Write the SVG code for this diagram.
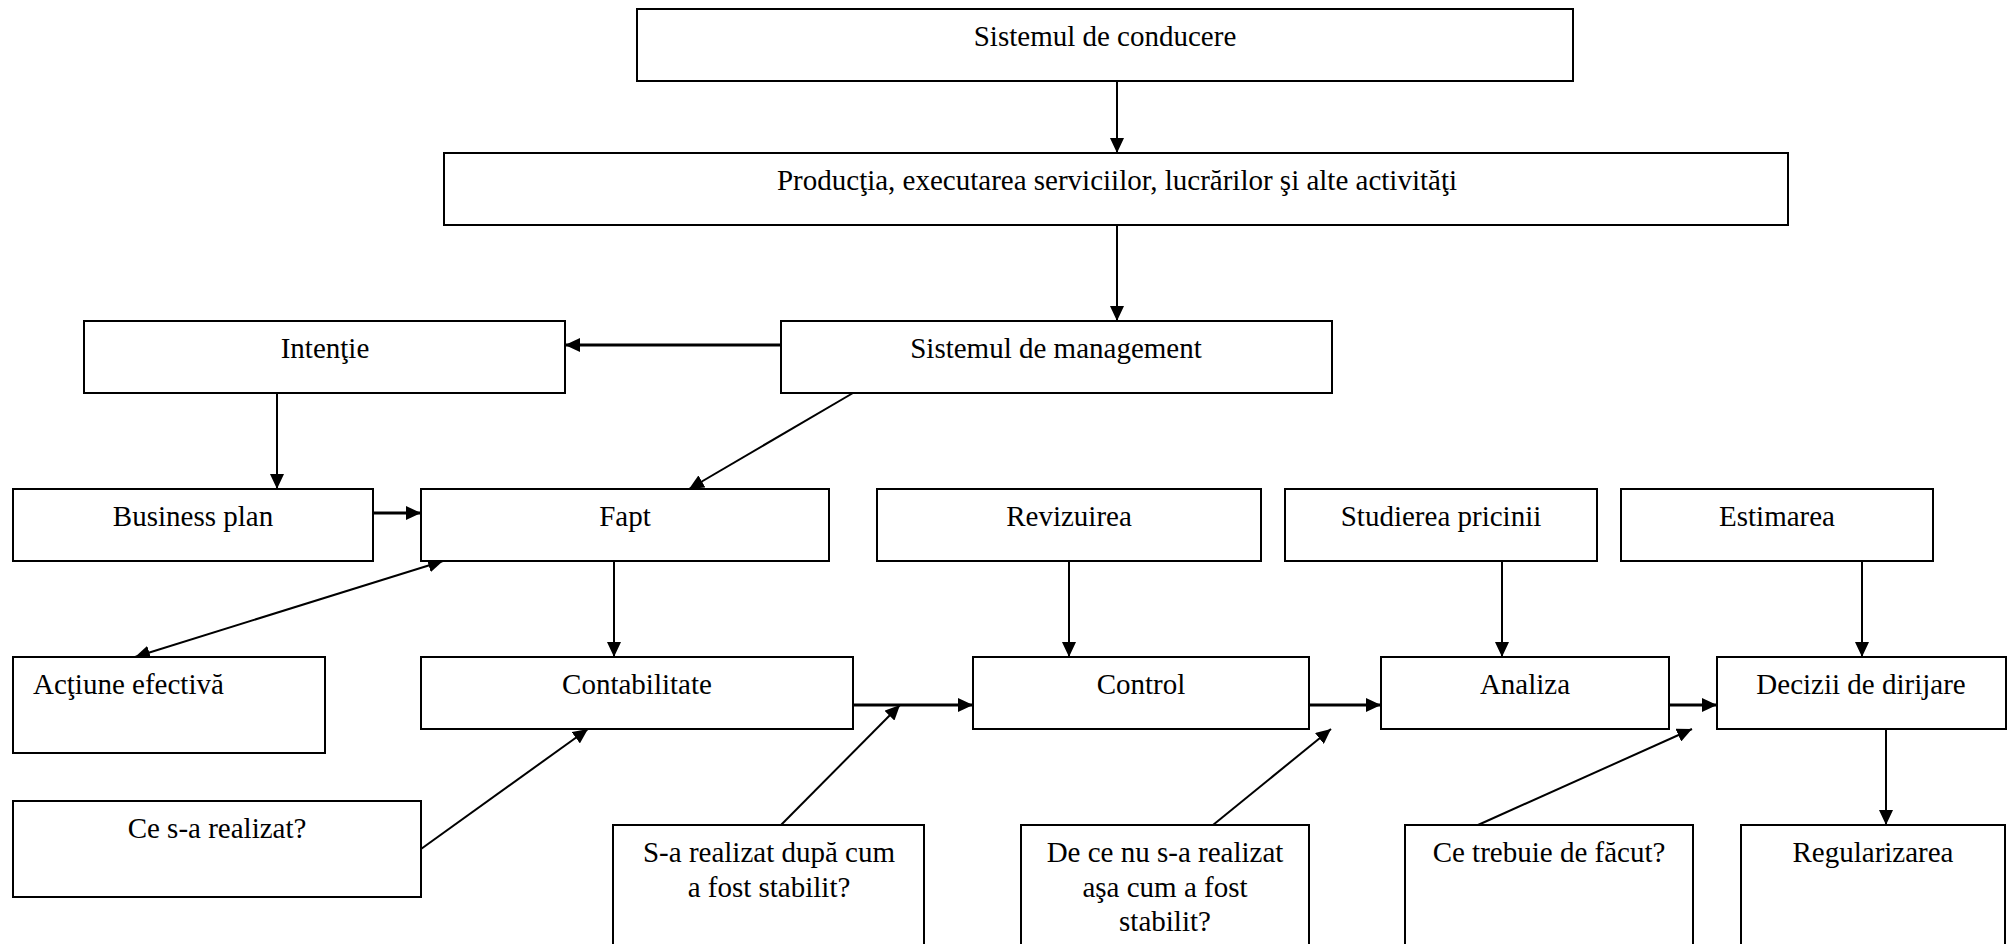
<svg xmlns="http://www.w3.org/2000/svg" width="2013" height="944" viewBox="0 0 2013 944">
  <style>
    .box { fill: #ffffff; stroke: #000000; stroke-width: 2; }
    .lbl { font-family: "Liberation Serif", "Times New Roman", serif; font-size: 29px; fill: #000000; text-anchor: middle; }
    .lbl-left { text-anchor: start; }
    .c { fill: none; stroke: #000000; stroke-width: 2; marker-end: url(#head); }
    .thick { stroke-width: 2.8; }
    .both { marker-start: url(#head); }
  </style>
  <defs>
    <marker id="head" viewBox="0 0 15 14" refX="15" refY="7" markerWidth="15" markerHeight="14" markerUnits="userSpaceOnUse" orient="auto-start-reverse">
      <path d="M0,0 L15,7 L0,14 z" fill="#000000"/>
    </marker>
  </defs>

  <rect width="2013" height="944" fill="#ffffff"/>

  <!-- connectors -->
  <g id="connectors">
    <line class="c" x1="1117" y1="81" x2="1117" y2="153"/>
    <line class="c" x1="1117" y1="225" x2="1117" y2="321"/>
    <line class="c thick" x1="781" y1="345" x2="565" y2="345"/>
    <line class="c" x1="277" y1="393" x2="277" y2="489"/>
    <line class="c thick" x1="373" y1="513" x2="421" y2="513"/>
    <line class="c" x1="853" y1="393" x2="689" y2="489"/>
    <line class="c both" x1="443" y1="561" x2="135" y2="657"/>
    <line class="c" x1="614" y1="561" x2="614" y2="657"/>
    <line class="c" x1="421" y1="849" x2="588" y2="729"/>
    <line class="c thick" x1="853" y1="705" x2="973" y2="705"/>
    <line class="c" x1="781" y1="825" x2="900" y2="705"/>
    <line class="c" x1="1069" y1="561" x2="1069" y2="657"/>
    <line class="c thick" x1="1309" y1="705" x2="1381" y2="705"/>
    <line class="c" x1="1213" y1="825" x2="1331" y2="729"/>
    <line class="c" x1="1502" y1="561" x2="1502" y2="657"/>
    <line class="c thick" x1="1669" y1="705" x2="1717" y2="705"/>
    <line class="c" x1="1478" y1="825" x2="1692" y2="729"/>
    <line class="c" x1="1862" y1="561" x2="1862" y2="657"/>
    <line class="c" x1="1886" y1="729" x2="1886" y2="825"/>
  </g>

  <!-- nodes -->
  <g id="sistemul-conducere">
    <rect class="box" x="637" y="9" width="936" height="72"/>
    <text class="lbl" x="1105" y="46">Sistemul de conducere</text>
  </g>
  <g id="productia">
    <rect class="box" x="444" y="153" width="1344" height="72"/>
    <text class="lbl" x="1117" y="190">Producţia, executarea serviciilor, lucrărilor şi alte activităţi</text>
  </g>
  <g id="intentie">
    <rect class="box" x="84" y="321" width="481" height="72"/>
    <text class="lbl" x="325" y="358">Intenţie</text>
  </g>
  <g id="sistemul-management">
    <rect class="box" x="781" y="321" width="551" height="72"/>
    <text class="lbl" x="1056" y="358">Sistemul de management</text>
  </g>
  <g id="business-plan">
    <rect class="box" x="13" y="489" width="360" height="72"/>
    <text class="lbl" x="193" y="526">Business plan</text>
  </g>
  <g id="fapt">
    <rect class="box" x="421" y="489" width="408" height="72"/>
    <text class="lbl" x="625" y="526">Fapt</text>
  </g>
  <g id="revizuirea">
    <rect class="box" x="877" y="489" width="384" height="72"/>
    <text class="lbl" x="1069" y="526">Revizuirea</text>
  </g>
  <g id="studierea-pricinii">
    <rect class="box" x="1285" y="489" width="312" height="72"/>
    <text class="lbl" x="1441" y="526">Studierea pricinii</text>
  </g>
  <g id="estimarea">
    <rect class="box" x="1621" y="489" width="312" height="72"/>
    <text class="lbl" x="1777" y="526">Estimarea</text>
  </g>
  <g id="actiune-efectiva">
    <rect class="box" x="13" y="657" width="312" height="96"/>
    <text class="lbl lbl-left" x="33" y="694">Acţiune efectivă</text>
  </g>
  <g id="contabilitate">
    <rect class="box" x="421" y="657" width="432" height="72"/>
    <text class="lbl" x="637" y="694">Contabilitate</text>
  </g>
  <g id="control">
    <rect class="box" x="973" y="657" width="336" height="72"/>
    <text class="lbl" x="1141" y="694">Control</text>
  </g>
  <g id="analiza">
    <rect class="box" x="1381" y="657" width="288" height="72"/>
    <text class="lbl" x="1525" y="694">Analiza</text>
  </g>
  <g id="decizii-dirijare">
    <rect class="box" x="1717" y="657" width="289" height="72"/>
    <text class="lbl" x="1861" y="694">Decizii de dirijare</text>
  </g>
  <g id="ce-s-a-realizat">
    <rect class="box" x="13" y="801" width="408" height="96"/>
    <text class="lbl" x="217" y="838">Ce s-a realizat?</text>
  </g>
  <g id="dupa-cum-stabilit">
    <rect class="box" x="613" y="825" width="311" height="140"/>
    <text class="lbl" x="769" y="862">S-a realizat după cum</text>
    <text class="lbl" x="769" y="897">a fost stabilit?</text>
  </g>
  <g id="de-ce-nu">
    <rect class="box" x="1021" y="825" width="288" height="140"/>
    <text class="lbl" x="1165" y="862">De ce nu s-a realizat</text>
    <text class="lbl" x="1165" y="897">aşa cum a fost</text>
    <text class="lbl" x="1165" y="931">stabilit?</text>
  </g>
  <g id="ce-trebuie">
    <rect class="box" x="1405" y="825" width="288" height="140"/>
    <text class="lbl" x="1549" y="862">Ce trebuie de făcut?</text>
  </g>
  <g id="regularizarea">
    <rect class="box" x="1741" y="825" width="264" height="140"/>
    <text class="lbl" x="1873" y="862">Regularizarea</text>
  </g>
</svg>
